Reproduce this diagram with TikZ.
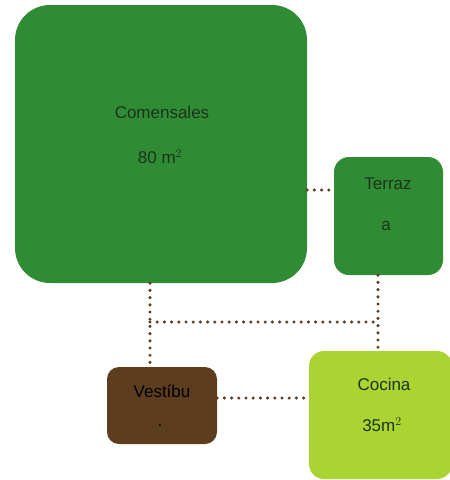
\documentclass[tikz,border=0pt]{standalone}
\usepackage{fontspec}
\setmainfont{Liberation Sans}
\definecolor{grn}{RGB}{48,140,52}
\definecolor{lgrn}{RGB}{170,212,50}
\definecolor{brn}{RGB}{92,62,30}
\definecolor{txt}{RGB}{28,52,28}
\begin{document}
\begin{tikzpicture}[x=1pt,y=1pt,
  room/.style={draw=none,inner sep=0pt},
  lbl/.style={inner sep=0pt,text=txt,font=\fontsize{17}{19}\selectfont},
  dots/.style={draw=brn,line width=3.4pt,line cap=round,dash pattern=on 0pt off 7.2pt}]
\useasboundingbox (0,0) rectangle (450,-480);
\node[room,fill=grn,rounded corners=35pt,minimum width=292pt,minimum height=278pt] (com) at (161,-144) {};
\node[room,fill=grn,rounded corners=15pt,minimum width=109pt,minimum height=118pt] (ter) at (388.5,-216) {};
\node[room,fill=brn,rounded corners=12pt,minimum width=110pt,minimum height=77pt] (ves) at (162,-405.5) {};
\node[room,fill=lgrn,rounded corners=15pt,minimum width=143pt,minimum height=128pt] (coc) at (380.5,-415) {};
\node[lbl] (t1) at (162,-112) {Comensales};
\node[lbl] (t2) at (160,-157) {80 m$^2$};
\node[lbl] (t3) at (388,-184) {Terraz};
\node[lbl] (t4) at (386,-226) {a};
\node[lbl,text=black] (t5) at (162,-391) {Vestíbu};
\node[lbl,text=black] (t6) at (160,-426) {.};
\node[lbl] (t7) at (384,-384) {Cocina};
\node[lbl] (t8) at (382,-425) {35m$^2$};
\coordinate (j1) at (150,-322);
\coordinate (j2) at (378,-322);
\draw[dots] (com.east |- 0,-190) -- (ter.west |- 0,-190);
\draw[dots] (com.south -| j1) -- (ves.north -| j1);
\draw[dots] (j1) -- (j2);
\draw[dots] (ter.south -| j2) -- (coc.north -| j2);
\draw[dots] (ves.east |- 0,-398) -- (coc.west |- 0,-398);
\end{tikzpicture}
\end{document}
